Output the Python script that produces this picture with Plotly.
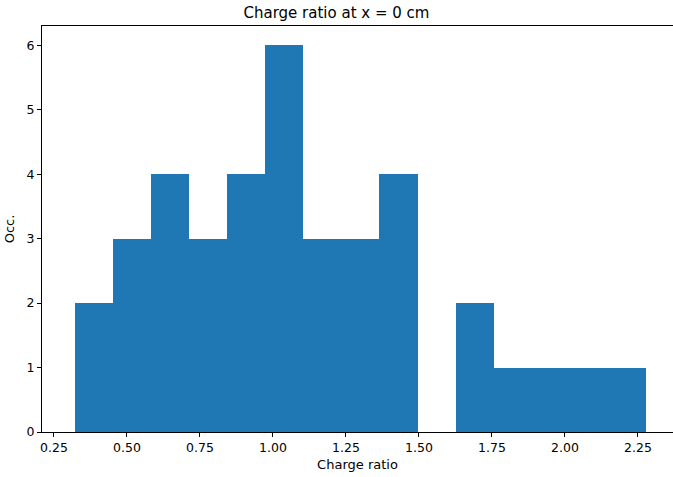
import plotly.graph_objects as go

# Histogram data (15 equal-width bins)
bin_start = 0.322
bin_end = 2.277
counts = [2, 3, 4, 3, 4, 6, 3, 3, 4, 0, 2, 1, 1, 1, 1]
x_ticks = [0.25, 0.50, 0.75, 1.00, 1.25, 1.50, 1.75, 2.00, 2.25]
y_ticks = [0, 1, 2, 3, 4, 5, 6]

n = len(counts)
w = (bin_end - bin_start) / n
centers = [bin_start + w * (i + 0.5) for i in range(n)]

fig = go.Figure(go.Bar(
    x=centers, y=counts, width=[w] * n,
    marker=dict(color="#1f77b4", line=dict(width=0)),
))

font = "DejaVu Sans, sans-serif"
fig.update_layout(
    width=673, height=477,
    margin=dict(l=42, r=0, t=26, b=45),
    plot_bgcolor="white", paper_bgcolor="white",
    bargap=0, showlegend=False,
    font=dict(family=font, size=12.5, color="black"),
    title=dict(text="Charge ratio at x = 0 cm", x=0.5, xanchor="center",
               y=1 - 13 / 477, yanchor="middle", font=dict(size=15, family=font)),
)
fig.update_xaxes(
    range=[0.209, 2.370], tickvals=x_ticks,
    ticktext=[f"{v:.2f}" for v in x_ticks],
    ticks="outside", ticklen=4, tickcolor="black",
    showline=True, linecolor="black", linewidth=1, mirror=True,
    showgrid=False, zeroline=False,
    title=dict(text="Charge ratio", standoff=5, font=dict(size=13)),
)
fig.update_yaxes(
    range=[0, 6.3], tickvals=y_ticks,
    ticks="outside", ticklen=4, tickcolor="black",
    showline=True, linecolor="black", linewidth=1, mirror=True,
    showgrid=False, zeroline=False,
    title=dict(text="Occ.", standoff=8, font=dict(size=13)),
)

fig.write_html("out.html")
